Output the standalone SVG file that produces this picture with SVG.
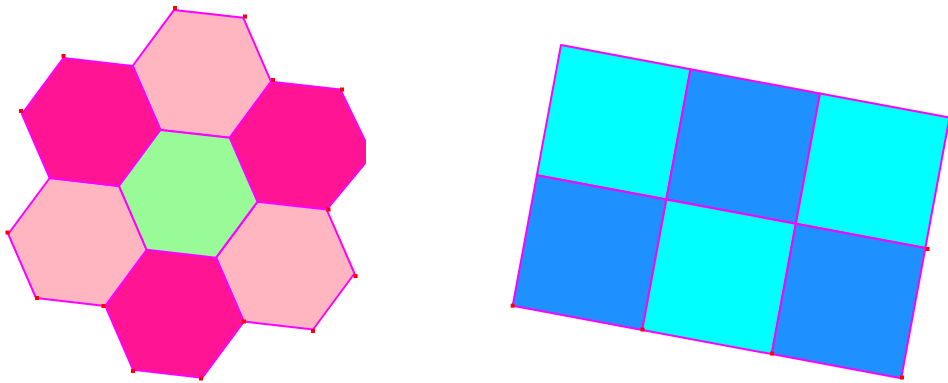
<svg xmlns="http://www.w3.org/2000/svg" width="948" height="383" viewBox="0 0 948 383">
<style>
.e{stroke:#ff00ff;stroke-width:2;stroke-linejoin:round}
.lp{fill:#ffb6c1}
.dp{fill:#ff1493}
.gr{fill:#98fb98}
.cy{fill:#00ffff}
.bl{fill:#1e90ff}
.m{fill:#ff0000}
</style>
<defs>
<clipPath id="leftclip"><rect x="0" y="0" width="366" height="383"/></clipPath>
<rect id="mk" x="-2" y="-2" width="4" height="4"/>
</defs>
<rect width="948" height="383" fill="#ffffff"/>
<g id="hexagons" clip-path="url(#leftclip)">
<g id="hex-top"><polygon class="e lp" points="271.1,81.8 229.7,137.8 160.4,129.9 132.6,66 174.1,9.9 243.3,17.8"/></g>
<g id="hex-upper-right"><polygon class="e dp" points="372,155 326.7,209.6 257.5,201.7 229.7,137.8 271.1,81.7 340.4,89.6"/></g>
<g id="hex-lower-right"><polygon class="e lp" points="354.5,273.5 313,329.5 243.8,321.6 216,257.7 257.5,201.7 326.7,209.6"/></g>
<g id="hex-bottom"><polygon class="e dp" points="243.8,321.6 202.3,377.7 133.1,369.8 105.3,305.9 146.7,249.8 216,257.7"/></g>
<g id="hex-lower-left"><polygon class="e lp" points="146.7,249.8 105.3,305.9 36,298 8.2,234 49.7,178 119,185.9"/></g>
<g id="hex-upper-left"><polygon class="e dp" points="160.4,129.9 119,185.9 49.7,178 21.9,114.1 63.4,58.1 132.6,66"/></g>
<g id="hex-center"><polygon class="e gr" points="257.5,201.7 216,257.7 146.7,249.8 119,185.9 160.4,129.9 229.7,137.8"/></g>
</g>
<g id="grid">
<g id="sq-r1c1"><polygon class="e cy" points="561,45 690.5,69.2 666.35,199.55 536.85,175.35"/></g>
<g id="sq-r1c2"><polygon class="e bl" points="690.5,69.2 820,93.4 795.85,223.75 666.35,199.55"/></g>
<g id="sq-r1c3"><polygon class="e cy" points="820,93.4 949.5,117.6 925.35,247.95 795.85,223.75"/></g>
<g id="sq-r2c1"><polygon class="e bl" points="536.85,175.35 666.35,199.55 642.2,329.9 512.7,305.7"/></g>
<g id="sq-r2c2"><polygon class="e cy" points="666.35,199.55 795.85,223.75 771.7,354.1 642.2,329.9"/></g>
<g id="sq-r2c3"><polygon class="e bl" points="795.85,223.75 925.35,247.95 901.2,378.3 771.7,354.1"/></g>
</g>
<g id="markers" class="m">
<use href="#mk" x="175" y="8"/>
<use href="#mk" x="245" y="16.5"/>
<use href="#mk" x="273" y="80"/>
<use href="#mk" x="342" y="89.5"/>
<use href="#mk" x="21" y="111"/>
<use href="#mk" x="63.5" y="56"/>
<use href="#mk" x="7.5" y="232.5"/>
<use href="#mk" x="37" y="298"/>
<use href="#mk" x="103.5" y="306"/>
<use href="#mk" x="133" y="371"/>
<use href="#mk" x="201" y="378.5"/>
<use href="#mk" x="244" y="321.5"/>
<use href="#mk" x="328.5" y="209.5"/>
<use href="#mk" x="355.5" y="276"/>
<use href="#mk" x="313" y="331"/>
<use href="#mk" x="512.7" y="305.7"/>
<use href="#mk" x="642.5" y="329.5"/>
<use href="#mk" x="772" y="353.5"/>
<use href="#mk" x="902" y="377.5"/>
<use href="#mk" x="927.5" y="249"/>
</g>
</svg>
